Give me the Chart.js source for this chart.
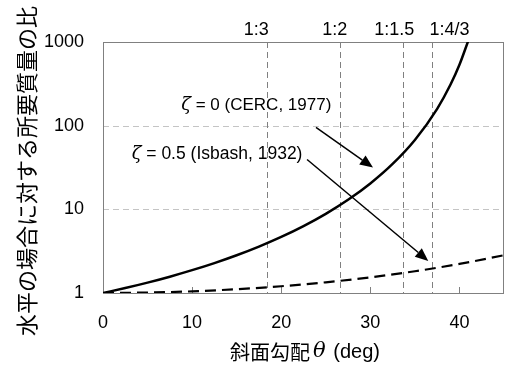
<!DOCTYPE html>
<html><head><meta charset="utf-8">
<script src="https://cdn.jsdelivr.net/npm/chart.js@4/dist/chart.umd.min.js"></script>
<style>html,body{margin:0;padding:0;background:#fff}#wrap{width:505px;height:369px}</style>
</head><body><div id="wrap"><canvas id="c" width="505" height="369"></canvas></div>
<script>
// slope angle (deg)
const anglesCERC = [0, 2.5, 5, 7.5, 10, 12.5, 15, 17.5, 20, 22.5, 25, 27.5, 30, 32.5, 35, 37.5, 39, 40, 41];
const ratioCERC  = [1, 1.147, 1.331, 1.567, 1.874, 2.279, 2.828, 3.59, 4.68, 6.31, 8.84, 13.0, 20.4, 34.9, 67.5, 159, 310, 534, 1041];
const anglesIsbash = [0, 5, 10, 15, 20, 25, 30, 35, 40, 45];
const ratioIsbash  = [1, 1.012, 1.047, 1.110, 1.205, 1.343, 1.540, 1.819, 2.225, 2.828];
const slopeLabels = ['1:3', '1:2', '1:1.5', '1:4/3'];
const slopeAngles = [18.43, 26.57, 33.69, 36.87];
const xTicks = [0, 10, 20, 30, 40];
const yTicks = [1, 10, 100, 1000];
const yGrid = [10, 100];
const label1 = ['ζ', ' = 0 (CERC, 1977)'];
const label2 = ['ζ', ' = 0.5 (Isbash, 1932)'];
const xTitle = ['斜面勾配', 'θ', ' (deg)'];
const yTitle = '水平の場合に対する所要質量の比';

const LAT = '"Liberation Sans", Arial, "Noto Sans CJK JP", sans-serif';
const JP = '"Noto Sans CJK JP", sans-serif';

function drawMixed(ctx, parts, cx, cy, fonts, gaps) {
  gaps = gaps || parts.map(() => 0);
  let widths = parts.map((p, i) => { ctx.font = fonts[i]; return ctx.measureText(p).width + gaps[i]; });
  let total = widths.reduce((a, b) => a + b, 0);
  let x = cx - total / 2;
  ctx.textBaseline = 'middle'; ctx.textAlign = 'left';
  parts.forEach((p, i) => { ctx.font = fonts[i]; ctx.fillText(p, x, cy); x += widths[i]; });
}

function arrow(ctx, x1, y1, x2, y2) {
  const ang = Math.atan2(y2 - y1, x2 - x1);
  const L = 13, W = 5.5;
  const bx = x2 - L * Math.cos(ang), by = y2 - L * Math.sin(ang);
  ctx.strokeStyle = '#000'; ctx.lineWidth = 1.5; ctx.setLineDash([]);
  ctx.beginPath(); ctx.moveTo(x1, y1); ctx.lineTo(bx, by); ctx.stroke();
  ctx.fillStyle = '#000';
  ctx.beginPath(); ctx.moveTo(x2, y2);
  ctx.lineTo(bx + W * Math.sin(ang), by - W * Math.cos(ang));
  ctx.lineTo(bx - W * Math.sin(ang), by + W * Math.cos(ang));
  ctx.closePath(); ctx.fill();
}

const deco = {
  id: 'deco',
  beforeDatasetsDraw(chart) {
    const { ctx, chartArea: a, scales: { x, y } } = chart;
    ctx.save();
    ctx.lineWidth = 1;
    ctx.setLineDash([6, 4]);
    ctx.strokeStyle = '#c4c4c4';
    yGrid.forEach(v => { const py = Math.round(y.getPixelForValue(v)) + 0.5; ctx.beginPath(); ctx.moveTo(a.left, py); ctx.lineTo(a.right, py); ctx.stroke(); });
    ctx.strokeStyle = '#808080';
    slopeAngles.forEach(v => { const px = Math.round(x.getPixelForValue(v)) + 0.5; ctx.beginPath(); ctx.moveTo(px, a.top); ctx.lineTo(px, a.bottom); ctx.stroke(); });
    ctx.setLineDash([]);
    ctx.strokeStyle = '#808080';
    ctx.strokeRect(Math.round(a.left) + 0.5, Math.round(a.top) + 0.5, Math.round(a.right - a.left) - 1, Math.round(a.bottom - a.top));
    // inward ticks on x axis
    xTicks.forEach(v => { if (v === 0) return; const px = Math.round(x.getPixelForValue(v)) + 0.5; ctx.beginPath(); ctx.moveTo(px, a.bottom); ctx.lineTo(px, a.bottom - 6); ctx.stroke(); });
    ctx.restore();
  },
  afterDatasetsDraw(chart) {
    const { ctx, chartArea: a, scales: { x, y } } = chart;
    ctx.save();
    ctx.fillStyle = '#000';
    // top slope labels
    const offs = [-11, -5, -9, 18];
    ctx.font = '18px ' + LAT; ctx.textAlign = 'center'; ctx.textBaseline = 'middle';
    slopeLabels.forEach((t, i) => ctx.fillText(t, x.getPixelForValue(slopeAngles[i]) + offs[i], 30));
    // annotations
    drawMixed(ctx, label1, x.getPixelForValue(17.2), y.getPixelForValue(175), ['italic 18px "DejaVu Serif", serif', '17px ' + LAT]);
    drawMixed(ctx, label2, x.getPixelForValue(12.8), y.getPixelForValue(46), ['italic 18px "DejaVu Serif", serif', '17.5px ' + LAT]);
    arrow(ctx, x.getPixelForValue(23.9), y.getPixelForValue(95.5), x.getPixelForValue(30.3), y.getPixelForValue(31.6));
    arrow(ctx, x.getPixelForValue(22.9), y.getPixelForValue(39.4), x.getPixelForValue(36.5), y.getPixelForValue(2.42));
    // x title
    drawMixed(ctx, xTitle, 305, 352, ['20px ' + JP, 'italic 21px "DejaVu Serif", serif', '20px ' + LAT], [3, 2, 0]);
    // y title
    ctx.translate(27, 171); ctx.rotate(-Math.PI / 2);
    ctx.font = '22px ' + JP; ctx.textAlign = 'center'; ctx.textBaseline = 'middle';
    ctx.fillText(yTitle, 0, 0);
    ctx.restore();
  }
};

new Chart(document.getElementById('c'), {
  type: 'scatter',
  data: {
    datasets: [
      { data: anglesCERC.map((v, i) => ({ x: v, y: ratioCERC[i] })), showLine: true, borderColor: '#000', borderWidth: 2.5, pointRadius: 0, cubicInterpolationMode: 'monotone' },
      { data: anglesIsbash.map((v, i) => ({ x: v, y: ratioIsbash[i] })), showLine: true, borderColor: '#000', borderWidth: 2.2, borderDash: [11, 6], pointRadius: 0, cubicInterpolationMode: 'monotone' }
    ]
  },
  options: {
    responsive: false, animation: false, devicePixelRatio: 1,
    layout: { padding: { top: 42, right: 1, left: 0, bottom: 0 } },
    plugins: { legend: { display: false }, tooltip: { enabled: false } },
    scales: {
      x: {
        type: 'linear', min: 0, max: 45,
        afterBuildTicks: s => { s.ticks = xTicks.map(v => ({ value: v })); },
        afterFit: s => { s.height = 76; },
        grid: { display: false, drawTicks: false }, border: { display: false },
        ticks: { color: '#000', font: { size: 18, family: LAT }, padding: 19, maxRotation: 0 }
      },
      y: {
        type: 'logarithmic', min: 1, max: 1000,
        afterBuildTicks: s => { s.ticks = yTicks.map(v => ({ value: v })); },
        afterFit: s => { s.width = 103; },
        grid: { display: false, drawTicks: false }, border: { display: false },
        ticks: { color: '#000', font: { size: 18, family: LAT }, padding: 19, callback: v => String(v) }
      }
    }
  },
  plugins: [deco]
});
</script></body></html>
